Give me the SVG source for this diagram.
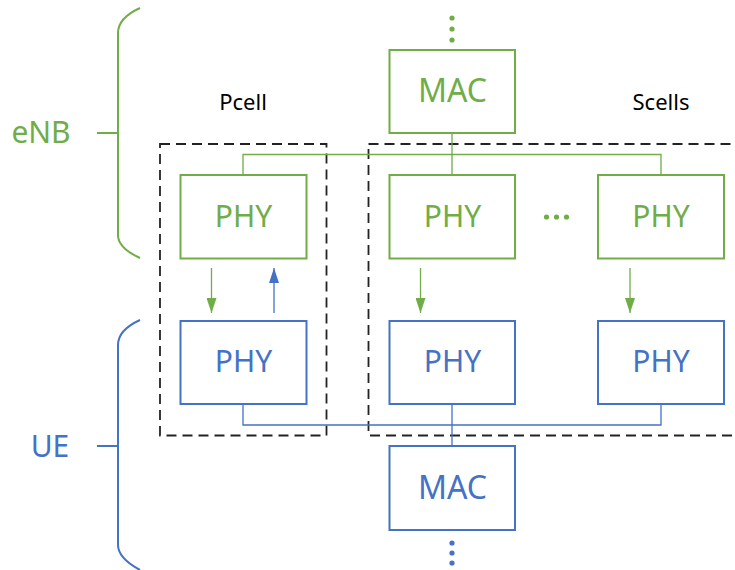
<svg xmlns="http://www.w3.org/2000/svg" width="735" height="570" viewBox="0 0 735 570">
  <style>
    .g { stroke: #70AD47; }
    .b { stroke: #4472C4; }
    .box { fill: #ffffff; stroke-width: 2; }
    .line { fill: none; stroke-width: 1.3; }
    .brace { fill: none; stroke-width: 2; }
    .dash { fill: none; stroke: #222222; stroke-width: 1.8; stroke-dasharray: 10 6; }
    .lbl { font-family: "Noto Sans", "Open Sans", sans-serif; text-anchor: middle; }
    .tg { fill: #70AD47; }
    .tb { fill: #4472C4; }
  </style>
  <defs>
    <marker id="arrowG" viewBox="0 0 15 10" refX="15" refY="5" markerWidth="15" markerHeight="10" markerUnits="userSpaceOnUse" orient="auto">
      <path d="M0,0 L15,5 L0,10 Z" fill="#70AD47"/>
    </marker>
    <marker id="arrowB" viewBox="0 0 15 10" refX="15" refY="5" markerWidth="15" markerHeight="10" markerUnits="userSpaceOnUse" orient="auto">
      <path d="M0,0 L15,5 L0,10 Z" fill="#4472C4"/>
    </marker>
  </defs>

  <!-- braces -->
  <g id="enb-brace">
    <path class="brace g" d="M140,8 Q118,18 118,33 L118,235 Q118,248 140,258"/>
    <line class="brace g" x1="97" y1="133" x2="118" y2="133"/>
    <text class="lbl tg" x="41" y="143" font-size="30">eNB</text>
  </g>
  <g id="ue-brace">
    <path class="brace b" d="M140,320 Q118,330 118,345 L118,545 Q118,558 140,570"/>
    <line class="brace b" x1="97" y1="446" x2="118" y2="446"/>
    <text class="lbl tb" x="50" y="457" font-size="30">UE</text>
  </g>

  <!-- cell groupings -->
  <g id="pcell">
    <rect class="dash" x="160" y="144" width="166.5" height="291.5"/>
    <text class="lbl" x="243" y="110" font-size="22" fill="#000000">Pcell</text>
  </g>
  <g id="scells">
    <rect class="dash" x="368.5" y="144" width="380" height="291.5"/>
    <text class="lbl" x="661" y="110" font-size="22" fill="#000000">Scells</text>
  </g>

  <!-- connectors -->
  <g id="connectors">
    <path class="line g" d="M452,133 L452,175 M243,175 L243,154.5 L661,154.5 L661,175"/>
    <path class="line b" d="M452,404 L452,446 M243,404 L243,425 L661,425 L661,404"/>
    <line class="line g" x1="211.5" y1="268" x2="211.5" y2="313" marker-end="url(#arrowG)"/>
    <line class="line b" x1="274" y1="313" x2="274" y2="268" marker-end="url(#arrowB)"/>
    <line class="line g" x1="420.5" y1="268" x2="420.5" y2="313" marker-end="url(#arrowG)"/>
    <line class="line g" x1="630" y1="268" x2="630" y2="313" marker-end="url(#arrowG)"/>
  </g>

  <!-- eNB nodes -->
  <g id="enb-mac">
    <rect class="box g" x="389.5" y="50" width="125.5" height="83"/>
    <text class="lbl tg" x="452.5" y="102" font-size="32">MAC</text>
    <g fill="#70AD47"><circle cx="452" cy="18" r="2.6"/><circle cx="452" cy="29" r="2.6"/><circle cx="452" cy="40" r="2.6"/></g>
  </g>
  <g id="enb-phy-p">
    <rect class="box g" x="180.5" y="175" width="126" height="83.5"/>
    <text class="lbl tg" x="243.5" y="227" font-size="30">PHY</text>
  </g>
  <g id="enb-phy-s1">
    <rect class="box g" x="389.5" y="175" width="125.5" height="83.5"/>
    <text class="lbl tg" x="452.5" y="227" font-size="30">PHY</text>
  </g>
  <g id="enb-ellipsis" fill="#70AD47">
    <circle cx="546.5" cy="217" r="2.6"/><circle cx="556.5" cy="217" r="2.6"/><circle cx="566.5" cy="217" r="2.6"/>
  </g>
  <g id="enb-phy-s2">
    <rect class="box g" x="598" y="175" width="126" height="83.5"/>
    <text class="lbl tg" x="661" y="227" font-size="30">PHY</text>
  </g>

  <!-- UE nodes -->
  <g id="ue-phy-p">
    <rect class="box b" x="180.5" y="321" width="126" height="83"/>
    <text class="lbl tb" x="243.5" y="372" font-size="30">PHY</text>
  </g>
  <g id="ue-phy-s1">
    <rect class="box b" x="389.5" y="321" width="125.5" height="83"/>
    <text class="lbl tb" x="452.5" y="372" font-size="30">PHY</text>
  </g>
  <g id="ue-phy-s2">
    <rect class="box b" x="598" y="321" width="126" height="83"/>
    <text class="lbl tb" x="661" y="372" font-size="30">PHY</text>
  </g>
  <g id="ue-mac">
    <rect class="box b" x="389.5" y="446" width="125.5" height="84"/>
    <text class="lbl tb" x="452.5" y="499" font-size="32">MAC</text>
    <g fill="#4472C4"><circle cx="452" cy="543" r="2.6"/><circle cx="452" cy="553" r="2.6"/><circle cx="452" cy="563" r="2.6"/></g>
  </g>
</svg>
